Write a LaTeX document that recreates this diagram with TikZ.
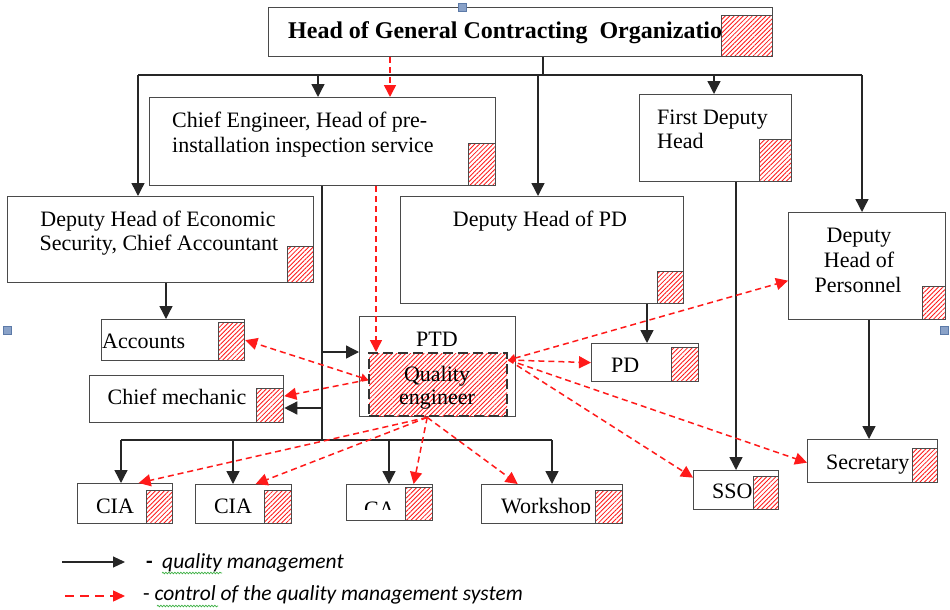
\documentclass[tikz,border=0pt]{standalone}
\usepackage{fontspec}
\setmainfont{Liberation Serif}
\newfontfamily\legfont{Carlito}
\usetikzlibrary{arrows.meta,patterns.meta,decorations.pathmorphing,calc}
\definecolor{boxline}{HTML}{4A4A4A}
\definecolor{qred}{HTML}{FF1A1A}
\definecolor{handlef}{HTML}{8AA2C8}
\definecolor{handled}{HTML}{5C7AA8}
\definecolor{spell}{HTML}{3CB043}
\newcommand\mybox[6][]{\node[box,#1,minimum width=#5pt,minimum height=#6pt] (#2) at (#3,#4) {};}
\newcommand\myhatch[5]{\node[hatchbox,minimum width=#4pt,minimum height=#5pt] (#1) at (#2,#3) {};}
\begin{document}
\begin{tikzpicture}[x=1pt,y=-1pt,
  box/.style={draw=boxline,line width=1.3pt,fill=white,anchor=north west,inner sep=0pt,rectangle},
  hatchbox/.style={draw=boxline,line width=0.9pt,anchor=north west,inner sep=0pt,rectangle,
     preaction={fill=white},pattern={Lines[angle=45,distance=3.2pt,line width=0.85pt]},pattern color=qred},
  txt/.style={inner sep=0pt,font=\fontsize{22}{25}\selectfont},
  legtxt/.style={inner sep=0pt,font=\legfont\fontsize{21.5}{25}\selectfont},
  ln/.style={draw=black!85,line width=1.4pt},
  arr/.style={ln,-{Triangle[length=13pt,width=13pt]}},
  rarr/.style={draw=qred,line width=1.5pt,dash pattern=on 6pt off 4pt,-{Triangle[length=12pt,width=12pt]}},
  rarrb/.style={rarr,{Triangle[length=7pt,width=8pt]}-{Triangle[length=12pt,width=12pt]}},
  handle/.style={rectangle,fill=handlef,draw=handled,line width=0.6pt,minimum size=8pt,inner sep=0pt},
  wavy/.style={draw=spell,line width=0.7pt,decorate,decoration={snake,amplitude=0.8pt,segment length=3pt}}
]
\useasboundingbox (0,0) rectangle (950,610);
\fill[white] (0,0) rectangle (950,610);

% ---------- boxes ----------
\mybox{top}{268}{7}{504}{49}
\mybox{ce}{149}{97}{346}{88}
\mybox{econ}{7}{196}{306}{86}
\mybox{dpd}{400}{196}{283}{107}
\mybox{fdh}{639}{94}{152}{87}
\mybox{per}{788}{212}{157}{107}
\mybox{acc}{101}{319}{143}{41}
\mybox{cm}{89}{375}{194}{47}
\mybox{ptd}{359}{316}{156}{100}
\mybox{pd}{591}{343}{107}{38}
\mybox{sso}{693}{470}{85}{39}
\mybox{sec}{807}{439}{130}{43}
\mybox{cia1}{77}{483}{95}{40}
\mybox{cia2}{195}{484}{96}{39}
\mybox{ca}{346}{484}{86}{36}
\mybox{ws}{481}{484}{141}{39}

% ---------- texts ----------
\node[inner sep=0pt,anchor=base west,font=\fontsize{24}{28}\selectfont\bfseries] (topT) at (288,39) {Head of General Contracting~ Organizatio};
\node[txt,anchor=base west] (ceT1) at (172,127) {Chief Engineer, Head of pre-};
\node[txt,anchor=base west] (ceT2) at (172,152) {installation inspection service};
\node[txt,anchor=base] (ecT1) at (158,226) {Deputy Head of Economic};
\node[txt,anchor=base] (ecT2) at (159,250) {Security, Chief Accountant};
\node[txt,anchor=base] (dpdT) at (540,226) {Deputy Head of PD};
\node[txt,anchor=base west] (fdT1) at (657,124) {First Deputy};
\node[txt,anchor=base west] (fdT2) at (657,148) {Head};
\node[txt,anchor=base] (peT1) at (859,242) {Deputy};
\node[txt,anchor=base] (peT2) at (859,267) {Head of};
\node[txt,anchor=base] (peT3) at (858,292) {Personnel};
\node[txt,anchor=base west] (acT) at (102,348) {Accounts};
\node[txt,anchor=base] (cmT) at (177,404) {Chief mechanic};
\node[txt,anchor=base] (ptT) at (437,346) {PTD};
\begin{scope}
  \clip (591,343) rectangle (698,371);
  \node[txt,anchor=base west] (pdT) at (611,372) {PD};
\end{scope}
\node[txt,anchor=base west] (ssT) at (712,498) {SSO};
\node[txt,anchor=base west] (seT) at (826,469) {Secretary};
\node[txt,anchor=base] (c1T) at (115,513) {CIA};
\node[txt,anchor=base] (c2T) at (233,513) {CIA};
\begin{scope}
  \clip (346,484) rectangle (432,509);
  \node[txt,anchor=base west] (caT) at (364,516) {CA};
\end{scope}
\begin{scope}
  \clip (481,484) rectangle (622,513);
  \node[txt,anchor=base west] (wsT) at (501,513) {Workshop};
\end{scope}

% ---------- hatch squares ----------
\myhatch{hTop}{721}{15}{51}{41}
\myhatch{hCe}{468}{143}{27}{42}
\myhatch{hEc}{287}{246}{26}{36}
\myhatch{hDpd}{657}{271}{26}{32}
\myhatch{hFd}{759}{139}{32}{42}
\myhatch{hPe}{922}{286}{23}{33}
\myhatch{hAc}{218}{322}{26}{38}
\myhatch{hCm}{256}{388}{27}{34}
\myhatch{hPd}{671}{347}{27}{34}
\myhatch{hSs}{753}{476}{25}{33}
\myhatch{hSe}{912}{448}{25}{34}
\myhatch{hC1}{146}{490}{26}{33}
\myhatch{hC2}{264}{490}{27}{33}
\myhatch{hCa}{405}{487}{27}{33}
\myhatch{hWs}{595}{490}{27}{33}

% quality engineer
\node[anchor=north west,inner sep=0pt,minimum width=138pt,minimum height=63pt,
  draw=black!80,line width=2.4pt,dash pattern=on 10pt off 5pt,
  preaction={fill=white},pattern={Lines[angle=45,distance=3.2pt,line width=0.85pt]},pattern color=qred] (qe) at (368,352) {};
\node[txt,anchor=base] (qeT1) at (437,381) {Quality};
\node[txt,anchor=base] (qeT2) at (437,404) {engineer};

% ---------- black connectors ----------
\coordinate (trunk) at (543,75);
\coordinate (busL) at (138,75);
\coordinate (busR) at (862,75);
\coordinate (bCE) at (318,75);
\coordinate (bPD) at (538,75);
\coordinate (bFD) at (714,75);
\draw[ln] (top.south -| trunk) -- (trunk);
\draw[ln] (busL) -- (busR);
\draw[arr] (busL) -- (econ.north -| busL);
\draw[arr] (bCE) -- (ce.north -| bCE);
\draw[arr] (bPD) -- (dpd.north -| bPD);
\draw[arr] (bFD) -- (fdh.north -| bFD);
\draw[arr] (busR) -- (per.north -| busR);

\coordinate (cv) at (322,440);
\coordinate (cvP) at (322,352);
\coordinate (cvM) at (322,408);
\draw[ln] (ce.south -| cv) -- (cv);
\draw[arr] (cvP) -- (ptd.west |- cvP);
\draw[arr] (cvM) -- (cm.east |- cvM);

\coordinate (bb1) at (121,440);
\coordinate (bb2) at (233,440);
\coordinate (bb3) at (389,440);
\coordinate (bb4) at (552,440);
\draw[ln] (bb1) -- (bb4);
\draw[arr] (bb1) -- (cia1.north -| bb1);
\draw[arr] (bb2) -- (cia2.north -| bb2);
\draw[arr] (bb3) -- (ca.north -| bb3);
\draw[arr] (bb4) -- (ws.north -| bb4);

\coordinate (xacc) at (166,0);
\coordinate (xpd) at (647,0);
\coordinate (xsso) at (736,0);
\coordinate (xsec) at (869,0);
\draw[arr] (econ.south -| xacc) -- (acc.north -| xacc);
\draw[arr] (dpd.south -| xpd) -- (pd.north -| xpd);
\draw[arr] (fdh.south -| xsso) -- (sso.north -| xsso);
\draw[arr] (per.south -| xsec) -- (sec.north -| xsec);

% ---------- red connectors ----------
\coordinate (xr1) at (390,0);
\coordinate (xr2) at (376,0);
\draw[rarr] (top.south -| xr1) -- (ce.north -| xr1);
\draw[rarr] (ce.south -| xr2) -- (qe.north -| xr2);
\coordinate (qL) at ([yshift=5pt]qe.west);
\coordinate (qR) at ([yshift=-8pt]qe.north east);
\coordinate (qB) at ([xshift=-11pt]qe.south);
\draw[rarrb] (qL) -- (acc.east);
\draw[rarr] (qL) -- ([yshift=3pt]cm.east);
\draw[rarrb] (qR) -- ([yshift=-14.5pt]per.west);
\draw[rarr] (qR) -- (pd.west);
\draw[rarr] (qR) -- ([yshift=-1.5pt]sec.west);
\draw[rarr] (qR) -- ([yshift=12.5pt]sso.west);
\draw[rarr] (qB) -- ([xshift=13.5pt]cia1.north);
\draw[rarr] (qB) -- ([xshift=12pt]cia2.north);
\draw[rarr] (qB) -- ([xshift=24pt]ca.north);
\draw[rarr] (qB) -- ([xshift=-34.5pt]ws.north);

% ---------- legend ----------
\coordinate (l1a) at (62,562);
\coordinate (l1b) at (125,562);
\coordinate (l2a) at (65,596);
\coordinate (l2b) at (125,596);
\draw[ln,line width=1.2pt,-{Triangle[length=12pt,width=11pt]}] (l1a) -- (l1b);
\draw[rarr,dash pattern=on 9pt off 6pt,-{Triangle[length=12pt,width=11pt]}] (l2a) -- (l2b);
\node[legtxt,anchor=base west] (l1d) at (146,568) {\textbf{-}};
\node[legtxt,anchor=base west] (l1t) at (162,568) {\itshape quality management};
\node[legtxt,anchor=base west] (l2t) at (143,600) {- \itshape control of the quality management system};
\coordinate (w1a) at (162,573);
\coordinate (w1b) at (222,573);
\coordinate (w2a) at (157,606);
\coordinate (w2b) at (218,606);
\draw[wavy] (w1a) -- (w1b);
\draw[wavy] (w2a) -- (w2b);

% ---------- selection handles ----------
\node[handle] (h1) at (462,7) {};
\node[handle] (h2) at (7,330) {};
\node[handle] (h3) at (944,330) {};
\end{tikzpicture}
\end{document}
